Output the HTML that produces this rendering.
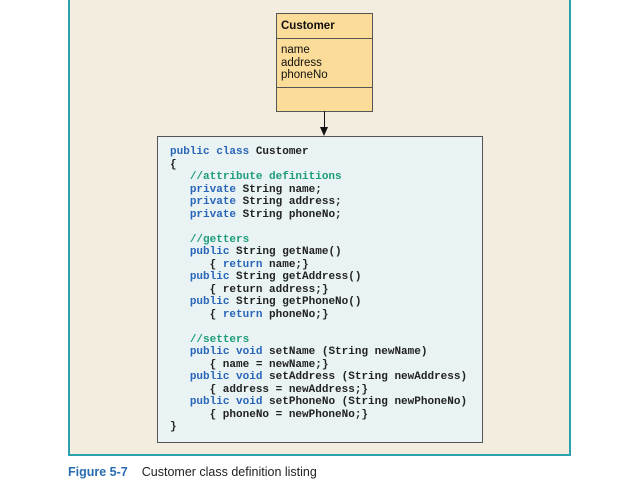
<!DOCTYPE html>
<html><head><meta charset="utf-8"><style>
body{margin:0;width:640px;height:480px;background:#fff;position:relative;overflow:hidden;font-family:"Liberation Sans",sans-serif}
.frame{position:absolute;left:68px;top:-2px;width:499px;height:454px;border:2px solid #2aa3ad;background:#f3ede0}
.uml{position:absolute;left:276px;top:13px;width:95px;height:97px;border:1px solid #555;background:#fbdc98;font-size:11.5px;color:#111}
.uml .h{height:24px;border-bottom:1px solid #555;font-weight:bold;padding-left:4px;line-height:25px}
.uml .a{height:49px;border-bottom:1px solid #555;padding:5px 4px 0;line-height:12.5px;box-sizing:border-box}
.line{position:absolute;left:324px;top:111px;width:1px;height:17px;background:#111}
.arr{position:absolute;left:320px;top:127px;width:0;height:0;border-left:4.5px solid transparent;border-right:4.5px solid transparent;border-top:9px solid #111}
.code{position:absolute;left:157px;top:136px;width:324px;height:305px;border:1px solid #555;background:#e9f3f3}
pre{margin:0;position:absolute;left:12px;top:9px;font-family:"Liberation Mono",monospace;font-size:11px;line-height:12.5px;color:#222;font-weight:bold}
.k{color:#2865b8}.c{color:#1d9c7c}
.cap{position:absolute;left:68px;top:465px;font-size:12.5px;color:#222}
.cap b{color:#2a6cb0;margin-right:14px}
</style></head><body>
<div class="frame"></div>
<div class="uml"><div class="h">Customer</div><div class="a">name<br>address<br>phoneNo</div></div>
<div class="line"></div><div class="arr"></div>
<div class="code"><pre><span class="k">public class</span> Customer
{
   <span class="c">//attribute definitions</span>
   <span class="k">private</span> String name;
   <span class="k">private</span> String address;
   <span class="k">private</span> String phoneNo;

   <span class="c">//getters</span>
   <span class="k">public</span> String getName()
      { <span class="k">return</span> name;}
   <span class="k">public</span> String getAddress()
      { return address;}
   <span class="k">public</span> String getPhoneNo()
      { <span class="k">return</span> phoneNo;}

   <span class="c">//setters</span>
   <span class="k">public void</span> setName (String newName)
      { name = newName;}
   <span class="k">public void</span> setAddress (String newAddress)
      { address = newAddress;}
   <span class="k">public void</span> setPhoneNo (String newPhoneNo)
      { phoneNo = newPhoneNo;}
}</pre></div>
<div class="cap"><b>Figure 5-7</b>Customer class definition listing</div>
</body></html>
